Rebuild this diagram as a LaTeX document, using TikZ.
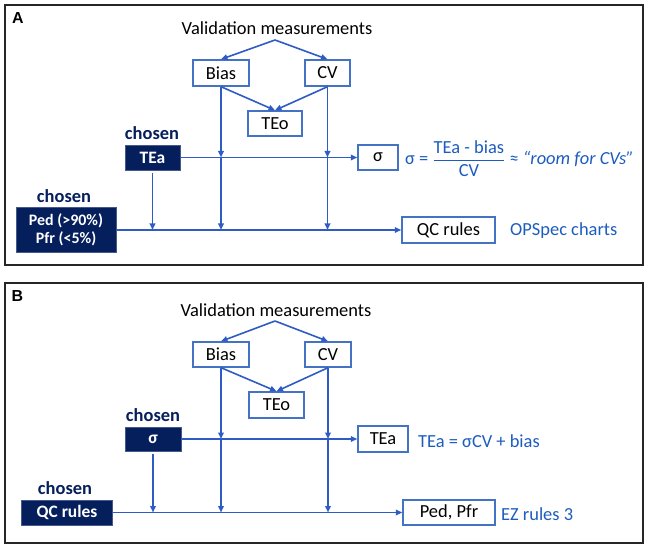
\documentclass[tikz,border=0pt]{standalone}
\usepackage{fontspec}
\usepackage{amsmath}
\setmainfont{Carlito}
\newfontfamily\labfont{Liberation Sans}
\usetikzlibrary{arrows.meta}

\definecolor{lineblue}{RGB}{46,92,196}
\definecolor{boxblue}{RGB}{68,114,196}
\definecolor{textblue}{RGB}{28,92,190}
\definecolor{navy}{RGB}{5,30,92}
\definecolor{navyedge}{RGB}{70,88,140}

\tikzset{
	wbox/.style={draw=boxblue, line width=1.4bp, fill=white, text=black, inner sep=0pt,
		font=\fontsize{18.5}{20}\selectfont},
	dbox/.style={draw=navyedge, line width=0.8bp, fill=navy, text=white, inner sep=0pt,
		font=\bfseries\fontsize{17.5}{20}\selectfont},
	conn/.style={draw=lineblue, line width=1.6bp, -{Triangle[length=6.5bp,width=5.5bp]}},
	chosenlab/.style={text=navy, inner sep=0pt, font=\bfseries\fontsize{18.5}{20}\selectfont},
	vallab/.style={inner sep=0pt, font=\fontsize{18.5}{20}\selectfont},
	note/.style={text=textblue, anchor=west, inner sep=0pt, font=\fontsize{18.5}{20}\selectfont},
	frame/.style={draw=black!85, line width=2bp},
	panellab/.style={inner sep=0pt, font=\labfont\bfseries\fontsize{16}{17}\selectfont}
}

\begin{document}
\begin{tikzpicture}[x=1bp, y=-1bp]
	\useasboundingbox (0,0) rectangle (650,550);

	% panel A
	\draw[frame] (5,5) rectangle (643,265);
	\node[panellab] (labA) at (18,18.5) {A};
	\node[vallab] (valA) at (277,28) {Validation measurements};
	\coordinate (topA) at (275,40);

	\node[wbox, minimum width=56bp, minimum height=26bp] (biasA) at (221,73) {Bias};
	\node[wbox, minimum width=45bp, minimum height=26bp] (cvA) at (327.5,73) {CV};
	\node[wbox, minimum width=54bp, minimum height=25bp] (teoA) at (275,123.5) {TEo};

	\node[chosenlab] (chA1) at (152,133) {chosen};
	\node[dbox, minimum width=55bp, minimum height=25bp] (teaA) at (152.5,157.5) {TEa};
	\node[wbox, minimum width=40bp, minimum height=25bp] (sigA) at (378,157.5) {σ};
	\node[note] (formA) at (405,158.5)
		{σ = $\dfrac{\text{TEa - bias}}{\text{CV}}$ ≈ \textit{“room for CVs”}};

	\node[chosenlab] (chA2) at (64,196) {chosen};
	\node[dbox, minimum width=100bp, minimum height=45bp, align=center,
		font=\bfseries\fontsize{16}{18}\selectfont] (pedA) at (66,230)
		{Ped (>90\%)\\Pfr (<5\%)};
	\node[wbox, minimum width=93bp, minimum height=26bp] (qcA) at (448.5,230) {QC rules};
	\node[note] (opsA) at (510,231) {OPSpec charts};

	\coordinate (xbA1) at (biasA.south |- teaA.east);
	\coordinate (xcA1) at (cvA.south |- teaA.east);
	\coordinate (xbA2) at (biasA.south |- pedA.east);
	\coordinate (xcA2) at (cvA.south |- pedA.east);
	\coordinate (xtA) at (teaA.south |- pedA.east);

	\draw[conn] (topA) -- (biasA.north);
	\draw[conn] (topA) -- (cvA.north);
	\draw[conn] (biasA.south) -- (teoA.north);
	\draw[conn] (cvA.south) -- (teoA.north);
	\draw[conn] (biasA.south) -- (xbA1);
	\draw[conn] (xbA1) -- (xbA2);
	\draw[conn] (cvA.south) -- (xcA1);
	\draw[conn] (xcA1) -- (xcA2);
	\draw[conn] (teaA.east) -- (sigA.west);
	\draw[conn, shorten <=3bp] (teaA.south) -- (xtA);
	\draw[conn] (pedA.east) -- (qcA.west);

	% panel B
	\draw[frame] (5,283) rectangle (643,543);
	\node[panellab] (labB) at (17.5,296.5) {B};
	\node[vallab] (valB) at (276,310.5) {Validation measurements};
	\coordinate (topB) at (275,321);

	\node[wbox, minimum width=56bp, minimum height=25bp] (biasB) at (221,354.5) {Bias};
	\node[wbox, minimum width=46bp, minimum height=25bp] (cvB) at (328,354.5) {CV};
	\node[wbox, minimum width=55bp, minimum height=26bp] (teoB) at (276.5,405) {TEo};

	\node[chosenlab] (chB1) at (153,415) {chosen};
	\node[dbox, minimum width=56bp, minimum height=24bp] (sigB) at (153,439) {σ};
	\node[wbox, minimum width=50bp, minimum height=26bp] (teaB) at (383,439) {TEa};
	\node[note] (formB) at (418,441) {TEa = σCV + bias};

	\node[chosenlab] (chB2) at (65,488) {chosen};
	\node[dbox, minimum width=91bp, minimum height=25bp] (qcB) at (67,512.5) {QC rules};
	\node[wbox, minimum width=92bp, minimum height=25bp] (pedB) at (449,512.5) {Ped, Pfr};
	\node[note] (ezB) at (501,514) {EZ rules 3};

	\coordinate (xbB1) at (biasB.south |- sigB.east);
	\coordinate (xcB1) at (cvB.south |- sigB.east);
	\coordinate (xbB2) at (biasB.south |- qcB.east);
	\coordinate (xcB2) at (cvB.south |- qcB.east);
	\coordinate (xsB) at (sigB.south |- qcB.east);

	\draw[conn] (topB) -- (biasB.north);
	\draw[conn] (topB) -- (cvB.north);
	\draw[conn] (biasB.south) -- (teoB.north);
	\draw[conn] (cvB.south) -- (teoB.north);
	\draw[conn] (biasB.south) -- (xbB1);
	\draw[conn] (xbB1) -- (xbB2);
	\draw[conn] (cvB.south) -- (xcB1);
	\draw[conn] (xcB1) -- (xcB2);
	\draw[conn] (sigB.east) -- (teaB.west);
	\draw[conn, shorten <=3bp] (sigB.south) -- (xsB);
	\draw[conn] (qcB.east) -- (pedB.west);
\end{tikzpicture}
\end{document}
